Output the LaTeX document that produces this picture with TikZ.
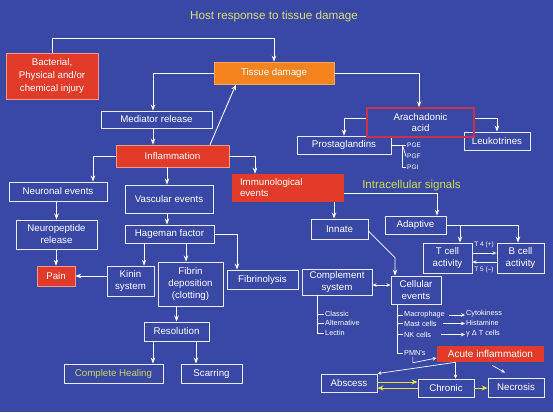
\documentclass[tikz,border=0pt]{standalone}
\usepackage{fontspec}
\setmainfont{Liberation Sans}
\usetikzlibrary{arrows.meta,calc}
\definecolor{bg}{HTML}{3A48A5}
\definecolor{boxline}{HTML}{ECECF4}
\definecolor{redfill}{HTML}{E23B2A}
\definecolor{redline}{HTML}{EE9A8C}
\definecolor{orfill}{HTML}{F5841F}
\definecolor{arared}{HTML}{C8324F}
\definecolor{titley}{HTML}{D8DE78}
\definecolor{signy}{HTML}{CEDA50}
\definecolor{healy}{HTML}{CCD65C}
\definecolor{arry}{HTML}{E6E63C}
\newcommand\myfs{\fontsize{9.7}{12}\selectfont}
\newcommand\mysm{\fontsize{7.3}{8}\selectfont}
\newcommand\mytiny{\fontsize{6.5}{7}\selectfont}
\begin{document}
\begin{tikzpicture}[x=1pt,y=-1pt,
  box/.style={draw=boxline, line width=0.9pt, text=white, align=center, inner sep=0pt, font=\myfs},
  redbox/.style={box, fill=redfill, draw=redline, line width=0.6pt},
  arr/.style={draw=white, line width=0.9pt, -{Stealth[length=6pt,width=4.5pt]}},
  sarr/.style={draw=white, line width=0.7pt, -{Stealth[length=4pt,width=3.5pt]}},
  yarr/.style={draw=arry, line width=1pt, -{Stealth[length=6pt,width=5pt]}},
  ln/.style={draw=white, line width=0.7pt},
  small/.style={text=white, font=\mysm, inner sep=1pt, anchor=west},
  tiny/.style={text=white, font=\mytiny, inner sep=0.5pt}]
\fill[bg] (0,0) rectangle (553,412);
\useasboundingbox (0,0) rectangle (553,412);

\node[text=titley, font=\fontsize{11.7}{13}\selectfont] (title) at (274,16) {Host response to tissue damage};

% boxes
\node[redbox, minimum width=92pt, minimum height=46pt, font=\fontsize{9.7}{12.8}\selectfont] (inj) at (52,76) {Bacterial,\\Physical and/or\\chemical injury};
\node[box, fill=orfill, draw=orfill!70!white, line width=0.6pt, minimum width=120pt, minimum height=22pt] (tis) at (274,73) {Tissue damage};
\node[box, minimum width=111pt, minimum height=17pt] (med) at (156.5,119.5) {Mediator release};
\node[redbox, minimum width=113pt, minimum height=22pt] (inf) at (172.5,156) {Inflammation};
\node[box, minimum width=94pt, minimum height=18pt] (pro) at (344,145) {Prostaglandins};
\node[box, minimum width=66pt, minimum height=18pt] (leu) at (497,141) {Leukotrines};
\node[box, draw=arared, line width=1.6pt, minimum width=107pt, minimum height=29pt, font=\fontsize{9.7}{11.5}\selectfont] (ara) at (420.5,122.5) {Arachadonic\\acid};
\node[box, minimum width=98pt, minimum height=19pt] (neu) at (58,191.5) {Neuronal events};
\node[box, minimum width=88pt, minimum height=28pt] (vas) at (169,199) {Vascular events};
\node[redbox, draw=none, minimum width=112pt, minimum height=28pt, text width=96pt, inner xsep=8pt, align=left, font=\fontsize{9.7}{11}\selectfont] (imm) at (288,188) {Immunological\\events};
\node[box, minimum width=81pt, minimum height=29pt] (npr) at (56.5,234.5) {Neuropeptide\\release};
\node[box, minimum width=89pt, minimum height=18pt] (hag) at (169.5,234) {Hageman factor};
\node[redbox, minimum width=38pt, minimum height=20pt] (pain) at (56,276) {Pain};
\node[box, minimum width=47pt, minimum height=30pt] (kin) at (130.5,281) {Kinin\\system};
\node[box, minimum width=65pt, minimum height=44pt] (fib) at (190.5,284) {Fibrin\\deposition\\(clotting)};
\node[box, minimum width=71pt, minimum height=19pt] (fly) at (262.5,279.5) {Fibrinolysis};
\node[box, minimum width=65pt, minimum height=19pt] (res) at (176.5,331.5) {Resolution};
\node[box, text=healy, minimum width=99pt, minimum height=19pt] (heal) at (113.5,373.5) {Complete Healing};
\node[box, minimum width=61pt, minimum height=19pt] (scar) at (211.5,373.5) {Scarring};
\node[box, minimum width=57pt, minimum height=20pt] (inn) at (339.5,229) {Innate};
\node[box, minimum width=61pt, minimum height=18pt] (ada) at (415.5,225) {Adaptive};
\node[box, minimum width=49pt, minimum height=30pt] (tcell) at (447.5,258) {T cell\\activity};
\node[box, minimum width=47pt, minimum height=30pt] (bcell) at (520.5,258) {B cell\\activity};
\node[box, minimum width=70pt, minimum height=26pt, font=\fontsize{9.7}{11.5}\selectfont] (com) at (337,282) {Complement\\system};
\node[box, minimum width=50pt, minimum height=28pt, font=\fontsize{9.7}{11.5}\selectfont] (cel) at (416,290) {Cellular\\events};
\node[redbox, draw=none, minimum width=107pt, minimum height=16pt, font=\fontsize{10}{12}\selectfont] (acu) at (490.5,354) {Acute inflammation};
\node[box, minimum width=56pt, minimum height=18pt] (abs) at (349,383) {Abscess};
\node[box, minimum width=56pt, minimum height=18pt] (chr) at (446,388) {Chronic};
\node[box, minimum width=56pt, minimum height=19pt] (nec) at (516,387.5) {Necrosis};

% labels
\node[text=signy, font=\fontsize{11.5}{13}\selectfont] (sig) at (411.5,186) {Intracellular signals};
\node[small, font=\mytiny] (pge) at (406,145) {PGE};
\node[small, font=\mytiny] (pgf) at (406,156.5) {PGF};
\node[small, font=\mytiny] (pgi) at (406,167.5) {PGI};
\node[small] (cla) at (324,314) {Classic};
\node[small] (alt) at (324,323) {Alternative};
\node[small] (lec) at (324,333) {Lectin};
\node[small] (mac) at (403,315) {Macrophage};
\node[small] (mast) at (403,323.5) {Mast cells};
\node[small] (nk) at (403,334.5) {NK cells};
\node[small] (pmn) at (403,353) {PMN's};
\node[small] (cyt) at (465,314) {Cytokiness};
\node[small] (his) at (465,323) {Histamine};
\node[small] (gdt) at (465,333.5) {γ Δ T cells};
\node[tiny] (t4) at (484,245) {T 4 (+)};
\node[tiny] (t5) at (484,270) {T 5 (–)};

% connectors
\draw[arr] (inj.north) -- ++(0,-14) -| (tis.north);
\draw[arr] (tis.west) -| ([xshift=-3.5pt]med.north);
\draw[arr] ([xshift=-3.5pt]med.south) -- ([xshift=-3.5pt]med.south |- inf.north);
\draw[arr] ([xshift=37.5pt]inf.north) -- ([xshift=-38pt]tis.south);
\draw[arr] (tis.east) -| ([xshift=-1.5pt]ara.north);
\draw[arr] ([yshift=4.5pt]ara.west) -| (pro.north);
\draw[arr] ([yshift=4.5pt]ara.east) -| (leu.north);
\draw[ln] (pro.east) -- (pge.west);
\draw[ln] ($(pro.east)+(11,0)$) |- (pgi.west);
\draw[ln] ($(pro.east)+(11,0)$ |- pgf.west) -- (pgf.west);
\draw[arr] (inf.west) -| ([xshift=35pt]neu.north);
\draw[arr] ([xshift=-2pt]vas.north |- inf.south) -- ([xshift=-2pt]vas.north);
\draw[arr] (inf.east) -| ([xshift=-33pt]imm.north);
\draw[arr] (npr.north |- neu.south) -- (npr.north);
\draw[arr] (pain.north |- npr.south) -- (pain.north);
\draw[arr] ([xshift=-2pt]vas.south) -- ([xshift=-2pt]vas.south |- hag.north);
\draw[arr] ([xshift=13.5pt]kin.north |- hag.south) -- ([xshift=13.5pt]kin.north);
\draw[arr] ([xshift=-4.5pt]fib.north |- hag.south) -- ([xshift=-4.5pt]fib.north);
\draw[arr] (hag.east) -| ([xshift=-25.5pt]fly.north);
\draw[arr] (kin.west |- pain.east) -- (pain.east);
\draw[arr] (res.north |- fib.south) -- (res.north);
\draw[arr] ([xshift=-23.5pt]res.south) -- ([xshift=-23.5pt]res.south |- heal.north);
\draw[arr] ([xshift=19.5pt]res.south) -- ([xshift=19.5pt]res.south |- scar.north);
\draw[arr] ([yshift=-5pt]imm.east) -| ([xshift=21.5pt]ada.north);
\draw[arr] ([xshift=-5.5pt]inn.north |- imm.south) -- ([xshift=-5.5pt]inn.north);
\draw[arr] (ada.east) -| ([xshift=12.5pt]tcell.north);
\draw[arr] (ada.east) -| ([xshift=-2.5pt]bcell.north);
\draw[sarr] ([yshift=5pt]tcell.east) -- ([yshift=5pt]tcell.east -| bcell.west);
\draw[sarr] ([yshift=-4pt]tcell.east -| bcell.west) -- ([yshift=-4pt]tcell.east);
\draw[arr, line width=0.7pt] ([yshift=-2pt]inn.east) -- ($(cel.north)+(-21,-18)$) -- ([xshift=-21pt]cel.north);
\draw[sarr, {Stealth[length=4pt,width=3.5pt]}-{Stealth[length=4pt,width=3.5pt]}] ([yshift=-3pt]com.east) -- ([yshift=-3pt]com.east -| cel.west);
\draw[ln] ([xshift=-20pt]com.south) |- (lec.west);
\draw[ln] ([xshift=-20pt]com.south |- cla.west) -- (cla.west);
\draw[ln] ([xshift=-20pt]com.south |- alt.west) -- (alt.west);
\draw[ln] ([xshift=-19pt]cel.south) |- (pmn.west);
\draw[ln] ([xshift=-19pt]cel.south |- mac.west) -- (mac.west);
\draw[ln] ([xshift=-19pt]cel.south |- mast.west) -- (mast.west);
\draw[ln] ([xshift=-19pt]cel.south |- nk.west) -- (nk.west);
\draw[sarr] ([xshift=3pt]mac.east) -- (mac.east -| cyt.west);
\draw[sarr] ([xshift=5pt]mast.east) -- (mast.east -| his.west);
\draw[sarr] ([xshift=9pt]nk.east) -- (nk.east -| gdt.west);
\draw[sarr] ([xshift=-2pt]pmn.south) -- ++(0,6) -- ([yshift=-4pt]acu.west);
\draw[sarr] ([xshift=-35pt]acu.south) -- (abs.north east);
\draw[sarr] ([xshift=-35pt]acu.south) -- ([xshift=9.5pt]chr.north);
\draw[sarr] ($(acu.south)+(1.5,3)$) -- ($(nec.north)+(-11,-5)$);
\draw[yarr] ([yshift=1pt]abs.east) -- ([yshift=1pt]abs.east -| chr.west);
\draw[yarr] ([yshift=-5pt]abs.east -| chr.west) -- ([yshift=-5pt]abs.east);
\draw[yarr] (chr.east) -- (chr.east -| nec.west);
\end{tikzpicture}
\end{document}
